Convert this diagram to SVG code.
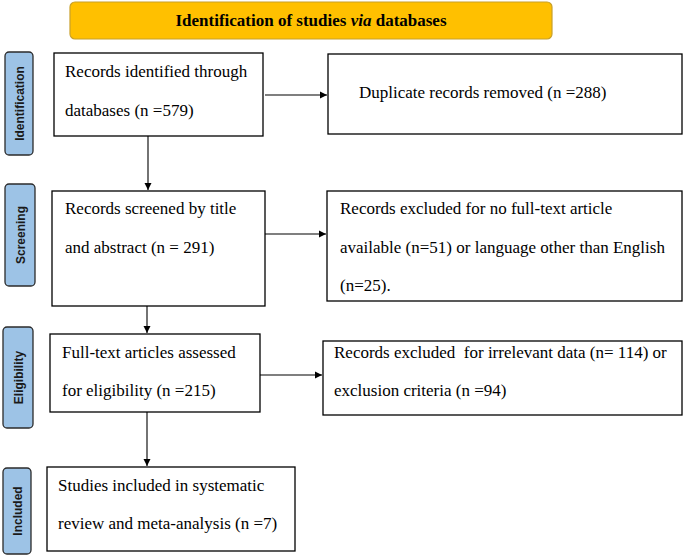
<svg xmlns="http://www.w3.org/2000/svg" width="685" height="556" viewBox="0 0 685 556">
<defs>
<marker id="ah" markerWidth="8" markerHeight="8" refX="7" refY="4" orient="auto" markerUnits="userSpaceOnUse">
<path d="M0,0.5 L7,4 L0,7.5 Z" fill="#000"/>
</marker>
<style>
.box{fill:#fff;stroke:#000;stroke-width:1.3}
.t{font-family:"Liberation Serif","Times New Roman",serif;font-size:17px;fill:#000}
.side{fill:#9DC3E6;stroke:#2b2b2b;stroke-width:1.3}
.st{font-family:"Liberation Sans",Arial,sans-serif;font-size:12px;font-weight:bold;fill:#1a1a1a}
.c{stroke:#000;stroke-width:1.1;fill:none;marker-end:url(#ah)}
</style>
</defs>
<rect width="685" height="556" fill="#fff"/>
<g id="title">
<rect x="70" y="2" width="482" height="37" rx="5" fill="#FFC000" stroke="#C8A02A" stroke-width="1.2"/>
<text x="311" y="26" text-anchor="middle" font-family="'Liberation Serif','Times New Roman',serif" font-size="17" font-weight="bold">Identification of studies <tspan font-style="italic">via</tspan> databases</text>
</g>
<g id="lbl-identification">
<rect class="side" x="5" y="52" width="28" height="103" rx="4"/>
<text class="st" transform="translate(23.5,103.5) rotate(-90)" text-anchor="middle">Identification</text>
</g>
<g id="lbl-screening">
<rect class="side" x="5" y="184" width="30" height="102" rx="4"/>
<text class="st" transform="translate(24.5,235) rotate(-90)" text-anchor="middle">Screening</text>
</g>
<g id="lbl-eligibility">
<rect class="side" x="3" y="327" width="30" height="101" rx="4"/>
<text class="st" transform="translate(22.5,377.5) rotate(-90)" text-anchor="middle">Eligibility</text>
</g>
<g id="lbl-included">
<rect class="side" x="3" y="468" width="28" height="86" rx="4"/>
<text class="st" transform="translate(21.5,511) rotate(-90)" text-anchor="middle">Included</text>
</g>
<g id="n-identified">
<rect class="box" x="54" y="53" width="209" height="83"/>
<text class="t" x="65" y="77">Records identified through</text>
<text class="t" x="65" y="116">databases (n =579)</text>
</g>
<g id="n-duplicates">
<rect class="box" x="328" y="54" width="354" height="80"/>
<text class="t" x="359" y="98">Duplicate records removed (n =288)</text>
</g>
<g id="n-screened">
<rect class="box" x="52" y="191" width="213" height="115"/>
<text class="t" x="65" y="214">Records screened by title</text>
<text class="t" x="65" y="253">and abstract (n = 291)</text>
</g>
<g id="n-excluded1">
<rect class="box" x="327" y="191" width="355" height="110"/>
<text class="t" x="340" y="214">Records excluded for no full-text article</text>
<text class="t" x="340" y="253">available (n=51) or language other than English</text>
<text class="t" x="340" y="291">(n=25).</text>
</g>
<g id="n-fulltext">
<rect class="box" x="50" y="334" width="210" height="78"/>
<text class="t" x="62" y="358">Full-text articles assessed</text>
<text class="t" x="62" y="396">for eligibility (n =215)</text>
</g>
<g id="n-excluded2">
<rect class="box" x="323" y="341" width="359" height="74"/>
<text class="t" x="334" y="358" xml:space="preserve">Records excluded  for irrelevant data (n= 114) or</text>
<text class="t" x="334" y="396">exclusion criteria (n =94)</text>
</g>
<g id="n-included">
<rect class="box" x="47" y="467" width="248" height="84"/>
<text class="t" x="58" y="491">Studies included in systematic</text>
<text class="t" x="58" y="529">review and meta-analysis (n =7)</text>
</g>
<g id="connectors">
<line class="c" x1="265" y1="95" x2="327" y2="95"/>
<line class="c" x1="148" y1="136" x2="148" y2="190"/>
<line class="c" x1="265" y1="234" x2="326" y2="234"/>
<line class="c" x1="147" y1="306" x2="147" y2="333"/>
<line class="c" x1="260" y1="375" x2="322" y2="375"/>
<line class="c" x1="147" y1="412" x2="147" y2="466"/>
</g>
</svg>
